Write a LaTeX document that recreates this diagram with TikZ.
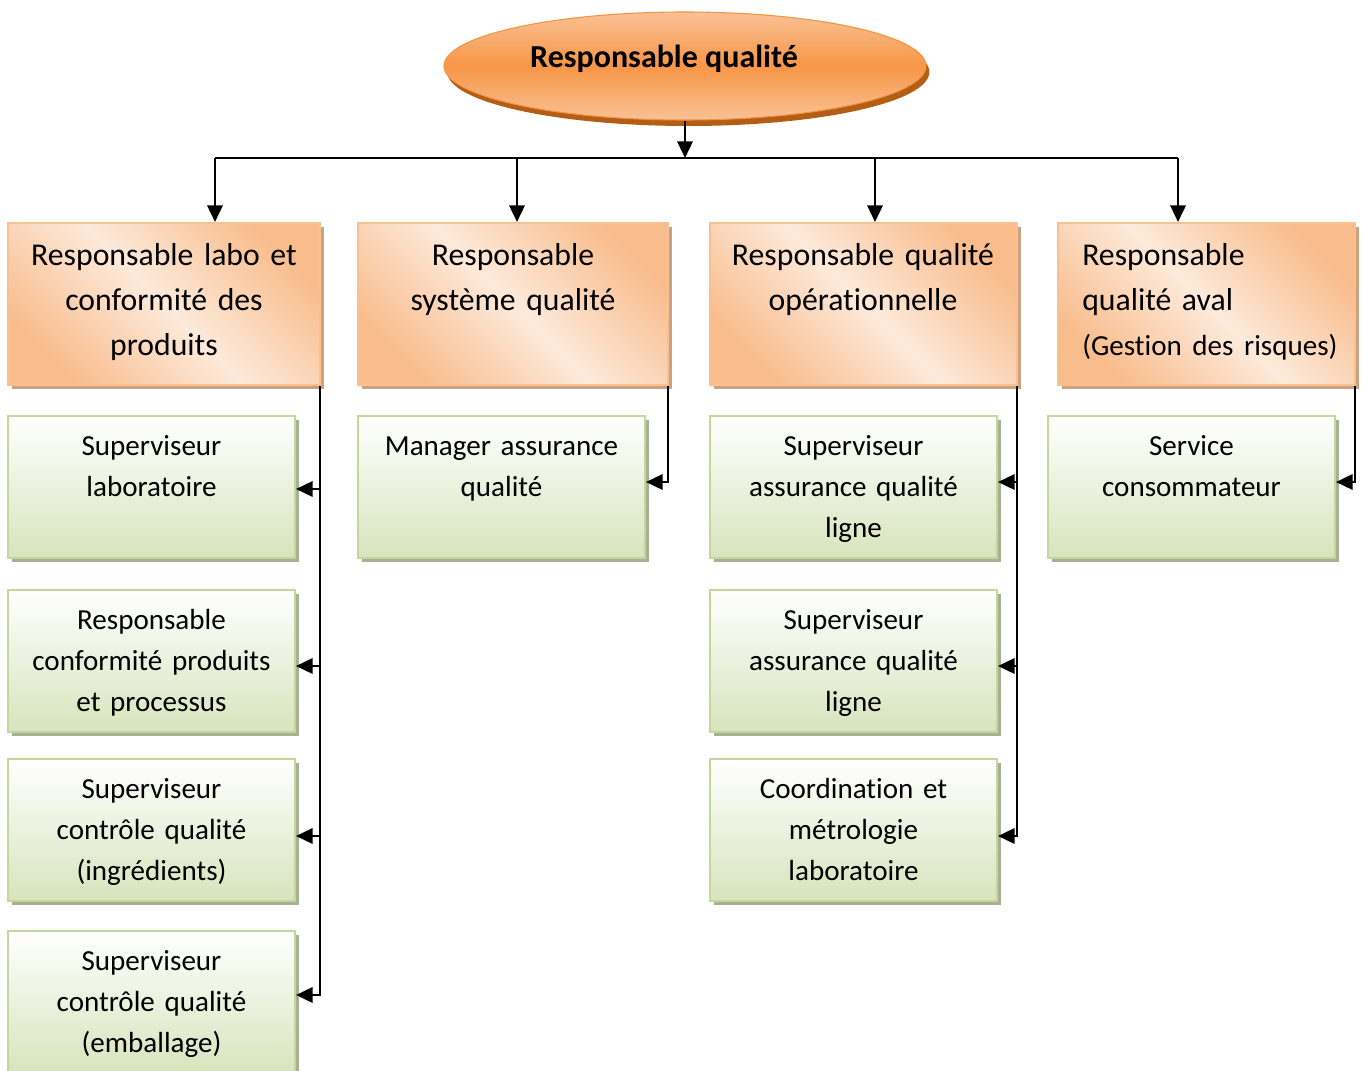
\documentclass[tikz,border=0pt]{standalone}
\usepackage{fontspec}
\setmainfont{Carlito}[Ligatures=NoCommon]
\usetikzlibrary{arrows.meta,shapes.geometric,shadows}

\definecolor{ovalLight}{HTML}{F9C196}
\definecolor{ovalMid}{HTML}{F79646}
\definecolor{ovalDark}{HTML}{B35E14}
\definecolor{ovalEdge}{HTML}{F39241}
\definecolor{peachDeep}{HTML}{F9BD8D}
\definecolor{peachPale}{HTML}{FDEADB}
\definecolor{peachEdge}{HTML}{FAC090}
\definecolor{peachShadow}{HTML}{C9A282}
\definecolor{sageTop}{HTML}{FFFFFF}
\definecolor{sageBottom}{HTML}{D7E4BD}
\definecolor{sageEdge}{HTML}{C3D69B}
\definecolor{sageShadow}{HTML}{A7B093}

\newcommand{\smallerline}{\fontsize{21.8pt}{30.75pt}\selectfont}

\begin{document}
\begin{tikzpicture}[
  x=0.75pt, y=-0.75pt,
  conn/.style={line width=1.9pt, black},
  arr/.style={conn, -{Triangle[length=12.5pt,width=11.5pt]}},
  topoval/.style={ellipse, inner sep=0pt, minimum width=361.5pt, minimum height=81pt,
    draw=ovalEdge, line width=0.8pt,
    top color=ovalLight, bottom color=ovalLight, middle color=ovalMid,
    general shadow={fill=ovalDark, shadow xshift=2.5pt, shadow yshift=-4.5pt}},
  titletxt/.style={anchor=base, inner sep=0pt, font=\fontsize{24pt}{28pt}\selectfont\bfseries},
  headbox/.style={rectangle, inner sep=0pt, minimum height=121.5pt,
    draw=peachEdge, line width=1.5pt,
    top color=peachDeep, bottom color=peachDeep, middle color=peachPale, shading angle=-45,
    general shadow={fill=peachShadow, shadow xshift=3pt, shadow yshift=-3pt}},
  leafbox/.style={rectangle, inner sep=0pt, minimum width=215.25pt, minimum height=106.5pt,
    draw=sageEdge, line width=1.5pt,
    top color=sageTop, bottom color=sageBottom,
    general shadow={fill=sageShadow, shadow xshift=3pt, shadow yshift=-3pt}},
  headtxt/.style={anchor=base, inner sep=0pt, align=center, text width=230pt,
    font=\fontsize{23.8pt}{33.75pt}\selectfont},
  leaftxt/.style={anchor=base, inner sep=0pt, align=center, text width=214pt,
    font=\fontsize{21.8pt}{30.75pt}\selectfont}
]
\useasboundingbox (0,0) rectangle (1362,1070);

% top of the hierarchy
\node[topoval] (chief) at (685,66) {};
\node[titletxt] (chiefT) at (664,68) {Responsable qualité};

% second level
\node[headbox, minimum width=234pt]    (hA) at (164,304) {};
\node[headbox, minimum width=232.5pt]  (hB) at (513,304) {};
\node[headbox, minimum width=230.25pt] (hC) at (863.5,304) {};
\node[headbox, minimum width=222.75pt] (hD) at (1206.5,304) {};

\node[headtxt] (hAt) at (164,265) {Responsable labo et\\conformité des\\produits};
\node[headtxt] (hBt) at (513,265) {Responsable\\système qualité};
\node[headtxt] (hCt) at (863,265) {Responsable qualité\\opérationnelle};
\node[headtxt, anchor=base west, align=left, text width=225pt] (hDt) at (1082,265)
  {Responsable\\qualité aval\\{\smallerline(Gestion des risques)}};

% third level
\node[leafbox] (lA1) at (151.5,487)  {};
\node[leafbox] (lA2) at (151.5,661)  {};
\node[leafbox] (lA3) at (151.5,830)  {};
\node[leafbox] (lA4) at (151.5,1002) {};
\node[leafbox] (lB1) at (501.5,487)  {};
\node[leafbox] (lC1) at (853.5,487)  {};
\node[leafbox] (lC2) at (853.5,661)  {};
\node[leafbox] (lC3) at (853.5,830)  {};
\node[leafbox] (lD1) at (1191.5,487) {};

\node[leaftxt] (lA1t) at (151.5,455) {Superviseur\\laboratoire};
\node[leaftxt] (lA2t) at (151.5,629) {Responsable\\conformité produits\\et processus};
\node[leaftxt] (lA3t) at (151.5,798) {Superviseur\\contrôle qualité\\(ingrédients)};
\node[leaftxt] (lA4t) at (151.5,970) {Superviseur\\contrôle qualité\\(emballage)};
\node[leaftxt] (lB1t) at (501.5,455) {Manager assurance\\qualité};
\node[leaftxt] (lC1t) at (853.5,455) {Superviseur\\assurance qualité\\ligne};
\node[leaftxt] (lC2t) at (853.5,629) {Superviseur\\assurance qualité\\ligne};
\node[leaftxt] (lC3t) at (853.5,798) {Coordination et\\métrologie\\laboratoire};
\node[leaftxt] (lD1t) at (1191.5,455) {Service\\consommateur};

% bus under the top oval
\coordinate (bus)  at (685,158);
\coordinate (busA) at (215,158);
\coordinate (busB) at (517,158);
\coordinate (busC) at (875,158);
\coordinate (busD) at (1178,158);
\draw[arr] (chief.south) -- (bus);
\draw[conn] (busA) -- (busD);
\draw[arr] (busA) -- (busA |- hA.north);
\draw[arr] (busB) -- (busB |- hB.north);
\draw[arr] (busC) -- (busC |- hC.north);
\draw[arr] (busD) -- (busD |- hD.north);

% spines down the right side of each second-level box
\coordinate (spA) at ([xshift=-0.75pt]hA.south east);
\coordinate (spB) at ([xshift=-0.75pt]hB.south east);
\coordinate (spC) at ([xshift=-0.75pt]hC.south east);
\coordinate (spD) at ([xshift=-0.75pt]hD.south east);

\draw[arr] (spA) |- ([yshift=-1.5pt]lA1.east);
\draw[arr] (spA) |- ([yshift=-3.75pt]lA2.east);
\draw[arr] (spA) |- ([yshift=-4.5pt]lA3.east);
\draw[arr] (spA) |- ([yshift=5.25pt]lA4.east);

\draw[arr] (spB) |- ([yshift=3.75pt]lB1.east);

\draw[arr] (spC) |- ([yshift=3.75pt]lC1.east);
\draw[arr] (spC) |- ([yshift=-3.75pt]lC2.east);
\draw[arr] (spC) |- ([yshift=-4.5pt]lC3.east);

\draw[arr] (spD) |- ([yshift=3.75pt]lD1.east);
\end{tikzpicture}
\end{document}
